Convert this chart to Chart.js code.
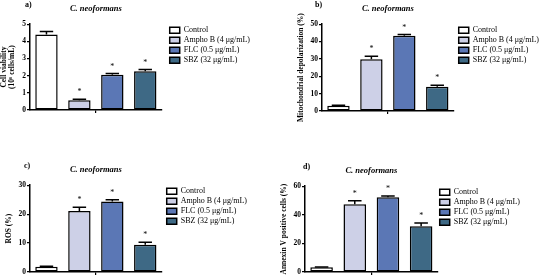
<!DOCTYPE html>
<html>
<head>
<meta charset="utf-8">
<script src="https://cdn.jsdelivr.net/npm/chart.js@4"></script>
<style>
  body { margin: 0; background: #fff; width: 546px; height: 280px; position: relative; overflow: hidden; }
  .panel { position: absolute; width: 273px; height: 140px; }
  .tag { position: absolute; font: bold 8px 'Liberation Serif', serif; color: #000; }
</style>
</head>
<body>
<div class="panel" style="left:0;top:0"><canvas id="chartA" width="273" height="140"></canvas></div>
<div class="panel" style="left:273px;top:0"><canvas id="chartB" width="273" height="140"></canvas></div>
<div class="panel" style="left:0;top:140px"><canvas id="chartC" width="273" height="140"></canvas></div>
<div class="panel" style="left:273px;top:140px"><canvas id="chartD" width="273" height="140"></canvas></div>
<div class="tag" style="left:25px;top:0px">a)</div>
<div class="tag" style="left:315px;top:0px">b)</div>
<div class="tag" style="left:24px;top:161px">c)</div>
<div class="tag" style="left:303px;top:162px">d)</div>
<script>
// treatment groups (legend)
var groups = ['Control', 'Ampho B (4 \u03bcg/mL)', 'FLC (0.5 \u03bcg/mL)', 'SBZ (32 \u03bcg/mL)'];

// a) cell viability (10^6 cells/mL)
var viability = [4.4, 0.57, 2.05, 2.26];
var viabilityErr = [0.18, 0.06, 0.08, 0.1];
var viabilityTicks = [0, 1, 2, 3, 4, 5];

// b) mitochondrial depolarization (%)
var depolarization = [3.0, 29.8, 43.4, 13.9];
var depolarizationErr = [0.3, 1.8, 0.7, 0.9];
var depolarizationTicks = [0, 10, 20, 30, 40, 50];

// c) ROS (%)
var ros = [1.8, 21.1, 24.4, 9.4];
var rosErr = [0.2, 1.3, 0.6, 0.9];
var rosTicks = [0, 10, 20, 30];

// d) annexin V positive cells (%)
var annexin = [3.3, 47.4, 52.2, 32.0];
var annexinErr = [0.2, 2.4, 1.0, 2.2];
var annexinTicks = [0, 20, 40, 60];

var fills = ['#ffffff', '#cdd0e7', '#5b77b5', '#3e6985'];
var serif = "'Liberation Serif', 'Times New Roman', serif";

// upper error whisker + significance star, from the scales
var errorBars = {
  id: 'errorBars',
  afterDatasetsDraw: function (chart) {
    var ctx = chart.ctx;
    var y = chart.scales.y;
    var errs = chart.options.plugins.errorBars.errors;
    ctx.save();
    ctx.strokeStyle = '#000';
    ctx.lineWidth = 1.5;
    chart.data.datasets.forEach(function (ds, i) {
      var bar = chart.getDatasetMeta(i).data[0];
      var top = y.getPixelForValue(ds.data[0] + errs[i]);
      var cap = bar.width * 0.3;
      ctx.beginPath();
      ctx.moveTo(bar.x, bar.y);
      ctx.lineTo(bar.x, top);
      ctx.moveTo(bar.x - cap, top);
      ctx.lineTo(bar.x + cap, top);
      ctx.stroke();
      if (i > 0) {
        ctx.fillStyle = '#000';
        ctx.font = '8px ' + serif;
        ctx.textAlign = 'center';
        ctx.textBaseline = 'middle';
        ctx.fillText('*', bar.x, top - 7);
      }
    });
    ctx.restore();
  }
};

// nudge the legend a little right of the plot
var legendShift = {
  id: 'legendShift',
  afterLayout: function (chart) {
    var dx = chart.options.plugins.legendShift.dx;
    chart.legend.left += dx;
    chart.legend.right += dx;
  }
};

function makeChart(id, values, errs, ticks, yTitle, box) {
  new Chart(document.getElementById(id), {
    type: 'bar',
    data: {
      labels: [''],
      datasets: groups.map(function (g, i) {
        return {
          label: g,
          data: [values[i]],
          backgroundColor: fills[i],
          borderColor: '#000',
          borderWidth: 1.5,
          borderSkipped: false,
          barPercentage: 0.68,
          categoryPercentage: 1
        };
      })
    },
    options: {
      responsive: false,
      animation: false,
      layout: { padding: { left: box.left, top: box.top, right: box.right, bottom: box.bottom } },
      scales: {
        x: {
          grid: { display: true, drawOnChartArea: false, offset: false, tickLength: 3, color: '#000', lineWidth: 1.2 },
          border: { display: true, color: '#000', width: 1.5 },
          ticks: { display: false },
          afterFit: function (s) { s.height = 4; }
        },
        y: {
          min: ticks[0],
          max: ticks[ticks.length - 1],
          afterBuildTicks: function (s) { s.ticks = ticks.map(function (v) { return { value: v }; }); },
          grid: { drawOnChartArea: false, tickLength: 3, color: '#000', lineWidth: 1.2 },
          border: { display: true, color: '#000', width: 1.5 },
          ticks: { padding: 1, color: '#000', font: { family: serif, size: 7.5, weight: 'bold' } },
          title: { display: true, text: yTitle, color: '#000', padding: { top: 0, bottom: 2 },
                   font: { family: serif, size: 7.5, weight: 'bold', lineHeight: 1.1 } },
          afterFit: function (s) { s.width = box.axis; }
        }
      },
      plugins: {
        title: {
          display: true, fullSize: false, text: 'C. neoformans', color: '#000',
          padding: { top: 0, bottom: 10 },
          font: { family: serif, size: 8.5, weight: 'bold', style: 'italic' }
        },
        legend: {
          position: 'right', align: 'start', fullSize: false, maxWidth: 120,
          labels: { boxWidth: 10, boxHeight: 6, padding: 2, color: '#000', font: { family: serif, size: 8 } }
        },
        tooltip: { enabled: false },
        errorBars: { errors: errs },
        legendShift: { dx: box.shift }
      }
    },
    plugins: [errorBars, legendShift]
  });
}

makeChart('chartA', viability, viabilityErr, viabilityTicks, ['Cell viability', '(10\u2076 cells/mL)'],
  { left: 0, axis: 30, top: 4, right: 19, bottom: 26, shift: 6 });
makeChart('chartB', depolarization, depolarizationErr, depolarizationTicks, 'Mitochondrial depolarization (%)',
  { left: 24, axis: 25, top: 4, right: 0, bottom: 25, shift: 3 });
makeChart('chartC', ros, rosErr, rosTicks, 'ROS (%)',
  { left: 5, axis: 25, top: 25, right: 19, bottom: 4, shift: 3 });
makeChart('chartD', annexin, annexinErr, annexinTicks, 'Annexin V positive cells (%)',
  { left: 7, axis: 25, top: 26, right: 16, bottom: 4, shift: 0 });
</script>
</body>
</html>
